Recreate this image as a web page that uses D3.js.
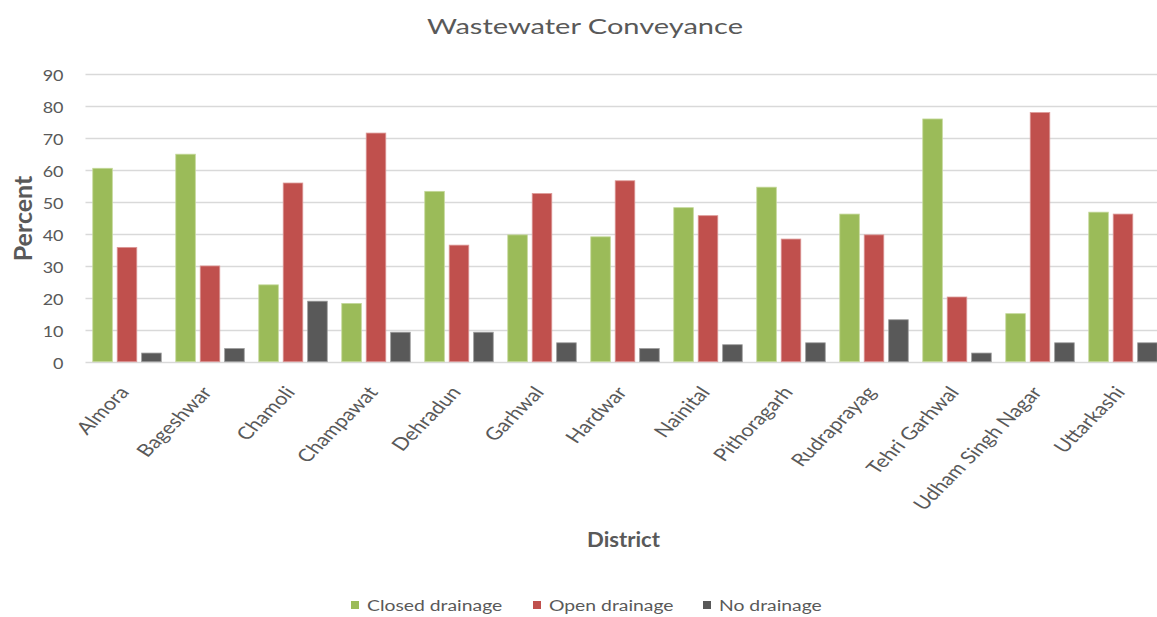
<!DOCTYPE html>
<html>
<head>
<meta charset="utf-8">
<script src="https://cdn.jsdelivr.net/npm/d3@7"></script>
<style>
  html, body { margin: 0; padding: 0; background: #fff; }
  svg { display: block; font-family: Lato, "Open Sans", sans-serif; }
</style>
</head>
<body>
<svg id="chart" width="1157" height="617"></svg>
<script>
// Districts along the x axis
const districts = ["Almora", "Bageshwar", "Chamoli", "Champawat", "Dehradun", "Garhwal",
  "Hardwar", "Nainital", "Pithoragarh", "Rudraprayag", "Tehri Garhwal", "Udham Singh Nagar", "Uttarkashi"];

// Share of households by wastewater conveyance type (%)
const closedDrainage = [60.4, 64.8, 24.0, 18.2, 53.2, 39.6, 39.0, 48.1, 54.5, 46.1, 75.8, 15.0, 46.7];
const openDrainage   = [35.7, 29.9, 55.8, 71.4, 36.4, 52.5, 56.5, 45.6, 38.3, 39.6, 20.2, 77.8, 46.1];
const noDrainage     = [2.7, 4.1, 18.9, 9.2, 9.2, 5.9, 4.1, 5.3, 5.9, 13.1, 2.7, 5.9, 5.9];

const seriesNames = ["Closed drainage", "Open drainage", "No drainage"];
const yTicks = [0, 10, 20, 30, 40, 50, 60, 70, 80, 90];

const seriesValues = [closedDrainage, openDrainage, noDrainage];
const colors = ["#9BBB59", "#C0504D", "#595959"];
const strokes = ["#c4d89a", "#dc9896", "#9a9a9a"];
const textColor = "#595959";
const wide = 1.25; // horizontal stretch applied to the chart's lettering

const svg = d3.select("#chart");
const W = 1157;

const plot = { left: 85.5, right: 1164.5, top: 73.5, bottom: 361.7 };

const x0 = d3.scaleBand().domain(districts).range([plot.left, plot.right]).paddingInner(0.175).paddingOuter(0.0875);
const x1 = d3.scaleBand().domain(d3.range(3)).range([0, x0.bandwidth()]).paddingInner(0.2);
const y = d3.scaleLinear().domain([0, 90]).range([plot.bottom, plot.top]);

// Horizontal gridlines
svg.append("g")
  .selectAll("line")
  .data(yTicks)
  .join("line")
  .attr("x1", plot.left)
  .attr("x2", W)
  .attr("y1", d => Math.round(y(d)) + 0.5)
  .attr("y2", d => Math.round(y(d)) + 0.5)
  .attr("stroke", "#d9d9d9")
  .attr("stroke-width", 1.3);

// Y axis labels
const yAxis = d3.axisLeft(y).tickValues(yTicks).tickSize(0).tickPadding(0);
const gy = svg.append("g").attr("transform", "translate(63.5,0)").call(yAxis);
gy.select(".domain").remove();
gy.selectAll("text")
  .attr("fill", textColor)
  .attr("x", 0)
  .attr("dy", "0.45em")
  .attr("transform", `scale(1.2,1)`)
  .style("font-size", "15px")
  .style("font-family", "Lato, 'Open Sans', sans-serif");

// Bars
const groups = svg.append("g")
  .selectAll("g")
  .data(districts)
  .join("g")
  .attr("transform", d => `translate(${x0(d)},0)`);

groups.selectAll("rect")
  .data((d, i) => seriesValues.map((s, k) => ({ k, v: s[i] })))
  .join("rect")
  .attr("x", d => x1(d.k))
  .attr("width", x1.bandwidth())
  .attr("y", d => y(d.v))
  .attr("height", d => y(0) - y(d.v))
  .attr("fill", d => colors[d.k])
  .attr("stroke", d => strokes[d.k])
  .attr("stroke-width", 0.8);

// X axis category labels, slanted
const xAxis = d3.axisBottom(x0).tickSize(0).tickPadding(0);
const gx = svg.append("g").attr("transform", `translate(0,${plot.bottom})`).call(xAxis);
gx.select(".domain").remove();
gx.selectAll("text")
  .attr("fill", textColor)
  .style("font-size", "17.5px")
  .style("font-family", "Lato, 'Open Sans', sans-serif")
  .attr("text-anchor", "end")
  .attr("y", 0)
  .attr("dy", "0")
  .attr("transform", `translate(3,31) scale(${wide},1) rotate(-51.3)`);

// Title
svg.append("text")
  .attr("x", 585)
  .attr("y", 33.5)
  .attr("text-anchor", "middle")
  .attr("fill", textColor)
  .attr("textLength", 316)
  .attr("lengthAdjust", "spacingAndGlyphs")
  .style("font-size", "22px")
  .text("Wastewater Conveyance");

// Axis titles
svg.append("text")
  .attr("transform", "translate(32,218.5) rotate(-90)")
  .attr("text-anchor", "middle")
  .attr("fill", textColor)
  .style("font-size", "25px")
  .style("font-weight", "bold")
  .text("Percent");

svg.append("text")
  .attr("x", 623.5)
  .attr("y", 547)
  .attr("text-anchor", "middle")
  .attr("fill", textColor)
  .attr("textLength", 73)
  .attr("lengthAdjust", "spacingAndGlyphs")
  .style("font-size", "21px")
  .style("font-weight", "bold")
  .text("District");

// Legend
const legendX = [351, 533, 703];
const lg = svg.append("g").selectAll("g").data(seriesNames).join("g")
  .attr("transform", (d, i) => `translate(${legendX[i]},601)`);
lg.append("rect").attr("x", 0).attr("y", 0).attr("width", 8).attr("height", 8)
  .attr("fill", (d, i) => colors[i]);
lg.append("text")
  .attr("transform", `translate(16,9.5) scale(1.29,1)`)
  .attr("fill", textColor)
  .style("font-size", "15px")
  .text(d => d);
</script>
</body>
</html>
